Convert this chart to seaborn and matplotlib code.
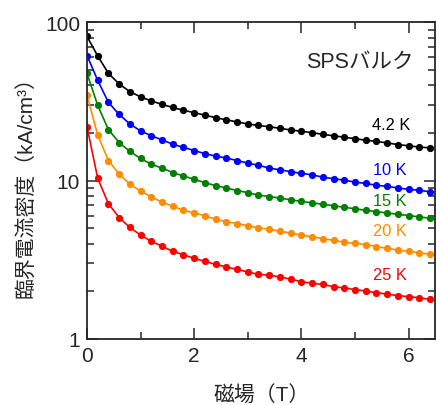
import numpy as np
import pandas as pd
import seaborn as sns
import matplotlib
matplotlib.use("Agg")
import matplotlib.pyplot as plt
from matplotlib.ticker import FixedLocator, NullFormatter

# magnetic field (T), 0.2 T steps
field = [round(0.2 * i, 1) for i in range(33)]

jc_4k = [81.4, 61.3, 47.6, 40.8, 36.5, 33.8, 31.9, 30.3, 29.0, 27.8, 26.9,
         25.9, 25.0, 24.2, 23.5, 22.8, 22.3, 21.9, 21.4, 20.9, 20.5, 20.1,
         19.6, 19.2, 18.8, 18.4, 18.0, 17.7, 17.3, 16.9, 16.6, 16.3, 16.1]
jc_10k = [61.7, 43.0, 31.2, 26.2, 22.8, 20.6, 19.2, 18.1, 17.0, 16.2, 15.5,
          14.8, 14.3, 13.9, 13.4, 12.9, 12.5, 12.0, 11.7, 11.4, 11.1, 10.9,
          10.5, 10.3, 10.06, 9.8, 9.6, 9.35, 9.2, 9.0, 8.8, 8.7, 8.5]
jc_15k = [47.6, 29.9, 21.0, 17.4, 15.3, 13.8, 12.7, 12.0, 11.25, 10.7, 10.2,
          9.7, 9.3, 9.0, 8.66, 8.4, 8.1, 7.94, 7.76, 7.57, 7.39, 7.25, 7.08,
          6.95, 6.78, 6.65, 6.49, 6.37, 6.25, 6.13, 6.02, 5.9, 5.79]
jc_20k = [34.7, 19.4, 13.4, 11.0, 9.5, 8.6, 7.9, 7.3, 6.9, 6.5, 6.25, 6.0,
          5.7, 5.5, 5.36, 5.19, 5.04, 4.92, 4.8, 4.66, 4.53, 4.42, 4.3, 4.2,
          4.08, 4.02, 3.95, 3.83, 3.74, 3.64, 3.58, 3.5, 3.43]
jc_25k = [21.9, 10.35, 7.15, 5.85, 5.06, 4.53, 4.14, 3.85, 3.58, 3.40, 3.23,
          3.09, 2.96, 2.85, 2.75, 2.65, 2.56, 2.53, 2.46, 2.39, 2.30, 2.25,
          2.21, 2.14, 2.10, 2.05, 2.01, 1.96, 1.92, 1.88, 1.85, 1.82, 1.78]

temps = ["4.2 K", "10 K", "15 K", "20 K", "25 K"]
colors = ["black", "#0000ff", "#008000", "#ff8c00", "#ff0000"]
label_y = [22.6, 11.8, 7.47, 4.85, 2.54]

rows = []
for t, vals in zip(temps, [jc_4k, jc_10k, jc_15k, jc_20k, jc_25k]):
    for b, v in zip(field, vals):
        rows.append({"field": b, "jc": v, "temp": t})
df = pd.DataFrame(rows)

sns.set_style("ticks")
plt.rcParams['font.family'] = ['Liberation Sans', 'Noto Sans CJK JP', 'DejaVu Sans']

fig = plt.figure(figsize=(4.36, 4.06), dpi=100)
ax = fig.add_axes([0.1995, 0.1626, 0.799, 0.78])

sns.lineplot(data=df, x="field", y="jc", hue="temp", hue_order=temps,
             palette=colors, marker="o", markersize=5.2, markeredgewidth=0,
             linewidth=1.2, legend=False, ax=ax)

ax.set_yscale("log")
ax.set_xlim(0, 6.5)
ax.set_ylim(1, 100)
ax.set_xticks([0, 2, 4, 6])
ax.set_xticklabels(["0", "2", "4", "6"])
ax.xaxis.set_minor_locator(FixedLocator([1, 3, 5]))
ax.set_yticks([1, 10, 100])
ax.set_yticklabels(["1", "10", "100"])
ax.yaxis.set_minor_locator(FixedLocator([m * 10 ** d for d in range(2) for m in range(2, 10)]))
ax.yaxis.set_minor_formatter(NullFormatter())

ax.tick_params(which="both", direction="in", top=True, right=True,
               labelsize=15, width=1.1, pad=5)
ax.tick_params(which="major", length=8)
ax.tick_params(which="minor", length=5)
for s in ax.spines.values():
    s.set_linewidth(1.3)

ax.set_xlabel("磁場（T）", fontsize=15, labelpad=14)
ax.set_ylabel("臨界電流密度（kA/cm³）", fontsize=15, labelpad=6)

for t, c, y in zip(temps, colors, label_y):
    ax.text(5.97 if t != "4.2 K" else 6.03, y, t, color=c, fontsize=11.8,
            ha="right", va="center")
ax.text(6.1, 56.4, "SPSバルク", fontsize=15.5, ha="right", va="center")

fig.savefig("out.png", dpi=100)
